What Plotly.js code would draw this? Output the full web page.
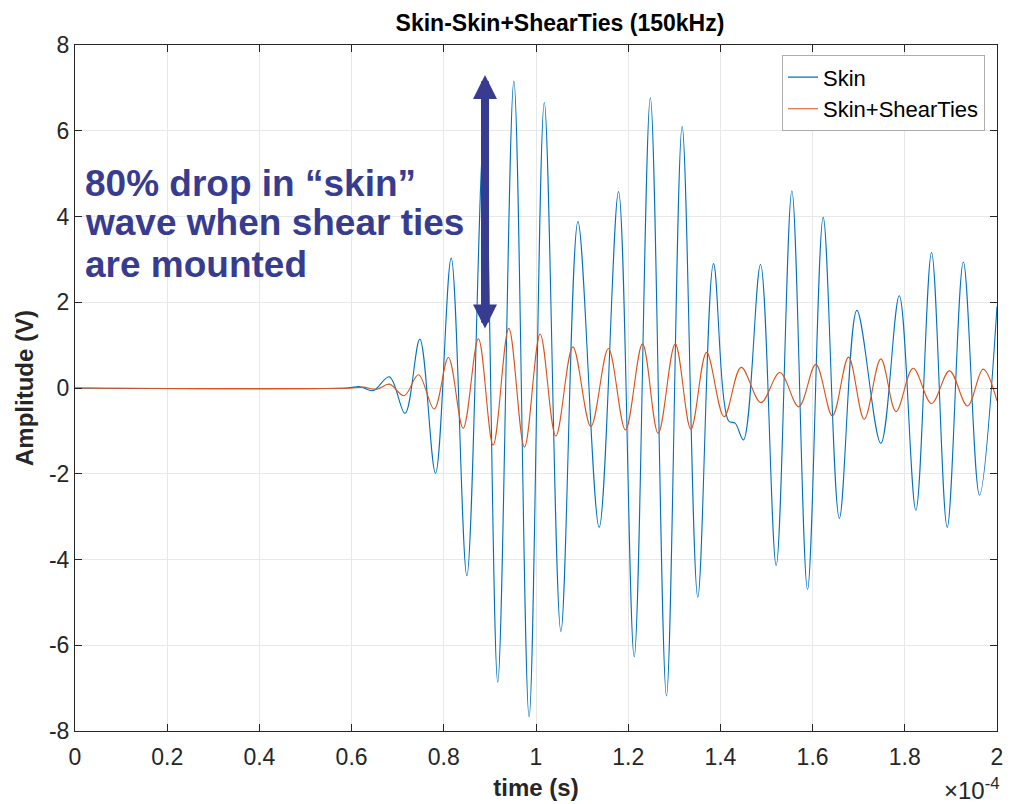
<!DOCTYPE html>
<html>
<head>
<meta charset="utf-8">
<script src="https://cdn.plot.ly/plotly-3.0.1.min.js"></script>
<style>html,body{margin:0;padding:0;background:#fff;}#chart{width:1013px;height:804px;}</style>
</head>
<body>
<div id="chart"></div>
<script>
// time in units of 1e-4 s (axis shows ×10^-4)
const skinT = [0, 0.59, 0.618, 0.647, 0.682, 0.716, 0.748, 0.782, 0.816, 0.850, 0.887, 0.917, 0.952, 0.985, 1.018, 1.054, 1.091, 1.137, 1.179, 1.213, 1.248, 1.283, 1.317, 1.351, 1.385, 1.418, 1.432, 1.450, 1.487, 1.521, 1.555, 1.589, 1.623, 1.658, 1.696, 1.748, 1.788, 1.824, 1.858, 1.892, 1.927, 1.962, 2.0];
const skinV = [0, 0, 0.03, -0.06, 0.26, -0.59, 1.14, -1.99, 3.03, -4.38, 5.9, -6.86, 7.16, -7.67, 6.66, -5.68, 3.88, -3.25, 4.58, -6.27, 6.77, -7.18, 6.10, -4.88, 2.90, -0.77, -0.82, -1.21, 2.88, -4.14, 4.60, -4.70, 3.98, -3.04, 1.81, -1.29, 2.15, -2.85, 3.16, -3.25, 2.94, -2.50, 1.90];

const tiesT = [0, 0.6, 0.625, 0.654, 0.682, 0.714, 0.745, 0.779, 0.810, 0.842, 0.875, 0.907, 0.941, 0.975, 1.009, 1.043, 1.080, 1.119, 1.157, 1.194, 1.231, 1.265, 1.302, 1.336, 1.370, 1.408, 1.445, 1.488, 1.529, 1.570, 1.607, 1.643, 1.678, 1.712, 1.748, 1.781, 1.818, 1.858, 1.897, 1.936, 1.970, 2.0];
const tiesV = [0, 0, 0.02, -0.03, 0.09, -0.18, 0.31, -0.49, 0.71, -0.94, 1.15, -1.33, 1.39, -1.38, 1.26, -1.12, 0.96, -0.90, 0.92, -0.98, 1.03, -1.06, 1.03, -0.96, 0.83, -0.67, 0.48, -0.34, 0.36, -0.44, 0.55, -0.65, 0.72, -0.73, 0.68, -0.55, 0.46, -0.36, 0.40, -0.42, 0.44, -0.30];

const xTickVals = [0, 0.2, 0.4, 0.6, 0.8, 1, 1.2, 1.4, 1.6, 1.8, 2];
const xTickText = ['0', '0.2', '0.4', '0.6', '0.8', '1', '1.2', '1.4', '1.6', '1.8', '2'];
const yTickVals = [-8, -6, -4, -2, 0, 2, 4, 6, 8];
const yTickText = ['-8', '-6', '-4', '-2', '0', '2', '4', '6', '8'];

const seriesNames = ['Skin', 'Skin+ShearTies'];
const noteLines = ['80% drop in \u201cskin\u201d', 'wave when shear ties', 'are mounted'];
const noteY = [4.78, 3.87, 2.87];
const arrowX = 0.8894, arrowTop = 7.30, arrowBottom = 1.35;

const FONT = 'Liberation Sans, Arial, sans-serif';
const NAVY = '#383c91';

const traces = [
  {x: skinT, y: skinV, name: seriesNames[0], mode: 'lines', line: {color: '#0072BD', width: 1.1, shape: 'spline', smoothing: 1}},
  {x: tiesT, y: tiesV, name: seriesNames[1], mode: 'lines', line: {color: '#D95319', width: 1.1, shape: 'spline', smoothing: 1}}
];

const annotations = noteLines.map((t, i) => ({
  text: '<b>' + t + '</b>', xref: 'x', yref: 'y', x: 0.0174, y: noteY[i],
  xanchor: 'left', yanchor: 'middle', showarrow: false,
  font: {family: FONT, size: 37, color: NAVY}
}));
annotations.push({
  xref: 'x', yref: 'y', axref: 'x', ayref: 'y',
  x: arrowX, y: arrowTop, ax: arrowX, ay: arrowBottom, text: '',
  showarrow: true, arrowside: 'end+start', arrowhead: 2, startarrowhead: 2,
  arrowsize: 0.6, startarrowsize: 0.6, arrowwidth: 8, arrowcolor: NAVY,
  standoff: 0, startstandoff: 0
});
annotations.push({
  xref: 'paper', yref: 'paper', x: 1.005, y: -0.084, xanchor: 'right', yanchor: 'middle',
  text: '\u00d710<sup>-4</sup>', showarrow: false, font: {family: FONT, size: 24, color: '#262626'}
});

const axisCommon = {
  showline: true, linecolor: '#262626', linewidth: 1, mirror: 'ticks',
  ticks: 'inside', ticklen: 7, tickcolor: '#262626', tickwidth: 1,
  showgrid: true, gridcolor: '#e8e8e8', gridwidth: 1, zeroline: false,
  tickfont: {family: FONT, size: 23, color: '#262626'}, automargin: false
};

const layout = {
  width: 1013, height: 804,
  margin: {l: 75, r: 16, t: 45, b: 73},
  paper_bgcolor: '#ffffff', plot_bgcolor: '#ffffff',
  font: {family: FONT, color: '#262626'},
  title: {text: '<b>Skin-Skin+ShearTies (150kHz)</b>', font: {family: FONT, size: 23, color: '#000000'},
          xref: 'paper', x: 0.526, xanchor: 'center', y: 0.972, yanchor: 'middle'},
  xaxis: Object.assign({}, axisCommon, {
    range: [0, 2], tickmode: 'array', tickvals: xTickVals, ticktext: xTickText, ticklabelstandoff: 5,
    title: {text: '<b>time (s)</b>', font: {family: FONT, size: 24, color: '#262626'}, standoff: 10}
  }),
  yaxis: Object.assign({}, axisCommon, {
    range: [-8, 8], tickmode: 'array', tickvals: yTickVals, ticktext: yTickText,
    title: {text: '<b>Amplitude (V)</b>', font: {family: FONT, size: 24, color: '#262626'}, standoff: 8}
  }),
  showlegend: true,
  legend: {x: 0.987, y: 0.985, xanchor: 'right', yanchor: 'top', bgcolor: '#ffffff',
           bordercolor: '#adadad', borderwidth: 1, font: {family: FONT, size: 22, color: '#000000'},
           tracegroupgap: 0},
  annotations: annotations
};

Plotly.newPlot('chart', traces, layout, {displayModeBar: false, staticPlot: true});
</script>
</body>
</html>
